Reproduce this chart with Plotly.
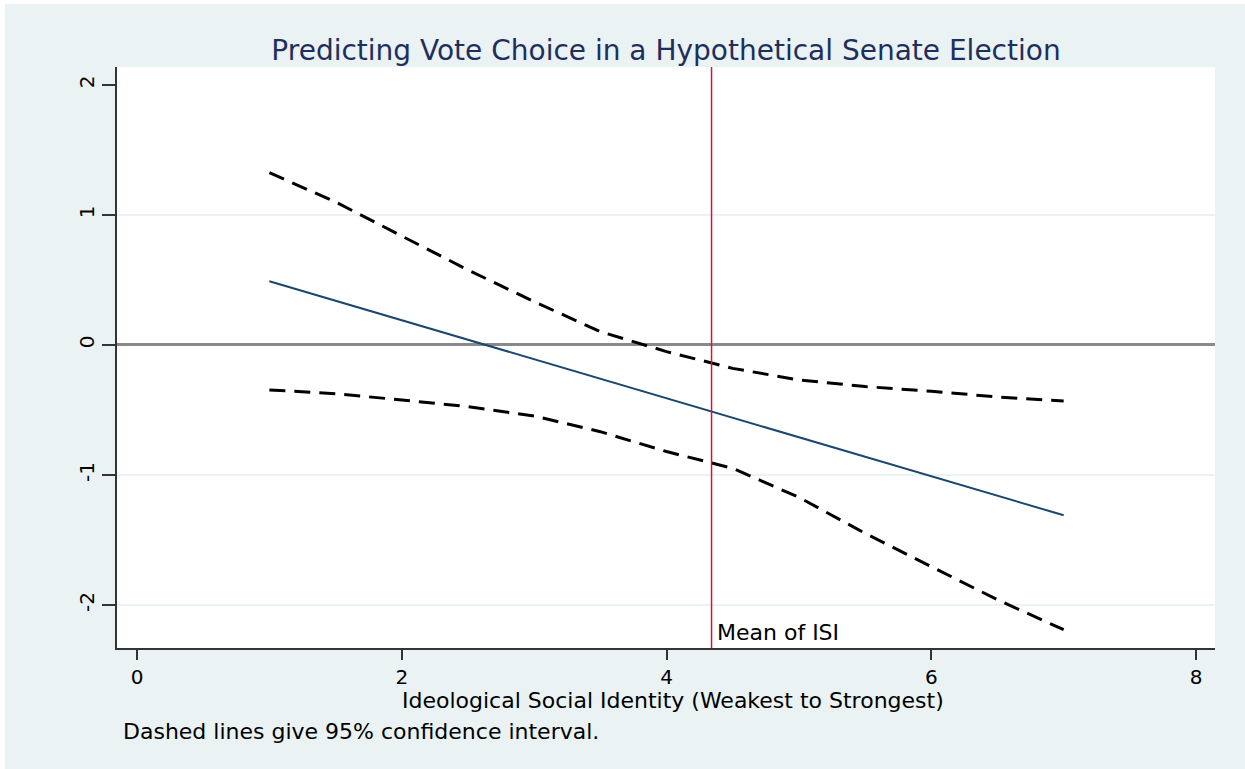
import plotly.graph_objects as go

# ---- data ----
isi = [1, 1.5, 2, 2.5, 3, 3.5, 4, 4.5, 5, 5.5, 6, 6.5, 7]
effect = [0.49, 0.34, 0.19, 0.04, -0.11, -0.26, -0.41, -0.56, -0.71, -0.86, -1.01, -1.16, -1.31]
upper_ci = [1.325, 1.10, 0.838, 0.577, 0.333, 0.102, -0.051, -0.18, -0.269, -0.32, -0.356, -0.40, -0.431]
lower_ci = [-0.346, -0.375, -0.423, -0.474, -0.546, -0.667, -0.82, -0.949, -1.172, -1.449, -1.705, -1.96, -2.19]
mean_isi = 4.34
x_ticks = [0, 2, 4, 6, 8]
y_ticks = [-2, -1, 0, 1, 2]
y_tick_labels = ["-2", "-1", "0", "1", "2"]
y_grid = [-2, -1, 1]

title_text = "Predicting Vote Choice in a Hypothetical Senate Election"
x_title = "Ideological Social Identity (Weakest to Strongest)"
caption = "Dashed lines give 95% confidence interval."
mean_label = "Mean of ISI"

# ---- style ----
W, H = 1245, 769
ML, MR, MT, MB = 117, 30, 67, 121
PW, PH = W - ML - MR, H - MT - MB
BG = "#EAF2F3"
FONT = "DejaVu Sans"


def px_x(p):
    return (p - ML) / PW


def px_y(p):
    return (H - MB - p) / PH


fig = go.Figure()

fig.add_trace(go.Scatter(x=isi, y=upper_ci, mode="lines",
                         line=dict(color="black", width=3, dash="16px,9px"),
                         showlegend=False, hoverinfo="skip"))
fig.add_trace(go.Scatter(x=isi, y=lower_ci, mode="lines",
                         line=dict(color="black", width=3, dash="16px,9px"),
                         showlegend=False, hoverinfo="skip"))
fig.add_trace(go.Scatter(x=isi, y=effect, mode="lines",
                         line=dict(color="#1A476F", width=2),
                         showlegend=False, hoverinfo="skip"))

shapes = []
for g in y_grid:
    shapes.append(dict(type="line", xref="x domain", yref="y", x0=0, x1=1, y0=g, y1=g,
                       line=dict(color=BG, width=2), layer="below"))
shapes += [
    # vertical line at the mean of ISI
    dict(type="line", xref="x", yref="y domain", x0=mean_isi, x1=mean_isi, y0=0, y1=1,
         line=dict(color="#D2153F", width=1.5), layer="above"),
    # white strips at the page edge
    dict(type="rect", xref="paper", yref="paper", x0=px_x(0), x1=px_x(W),
         y0=px_y(4), y1=px_y(0), fillcolor="white", line=dict(width=0), layer="below"),
    dict(type="rect", xref="paper", yref="paper", x0=px_x(0), x1=px_x(5),
         y0=px_y(H), y1=px_y(0), fillcolor="white", line=dict(width=0), layer="below"),
]

annotations = [
    dict(text=x_title, xref="paper", yref="paper", x=px_x(673), y=px_y(700),
         xanchor="center", yanchor="middle", showarrow=False,
         font=dict(family=FONT, size=22, color="black")),
    dict(text=caption, xref="paper", yref="paper", x=px_x(121), y=px_y(731),
         xanchor="left", yanchor="middle", showarrow=False,
         font=dict(family=FONT, size=22, color="black")),
    dict(text=mean_label, xref="x", yref="paper", x=mean_isi, y=px_y(632),
         xanchor="left", yanchor="middle", xshift=3, showarrow=False,
         font=dict(family=FONT, size=22, color="black")),
]

fig.update_layout(
    width=W, height=H,
    margin=dict(l=ML, r=MR, t=MT, b=MB, pad=0),
    paper_bgcolor=BG, plot_bgcolor="white",
    title=dict(text=title_text, x=0.5, xref="paper", xanchor="center",
               y=1 - 50 / H, yref="container", yanchor="middle",
               font=dict(family=FONT, size=28, color="#1F2F5C")),
    font=dict(family=FONT, color="black"),
    shapes=shapes, annotations=annotations,
    xaxis=dict(range=[-0.151, 8.143], tickvals=x_ticks, ticks="outside", ticklen=10,
               tickwidth=1.5, tickcolor="#333333", showgrid=False, zeroline=False,
               showline=True, linecolor="#333333", linewidth=2,
               tickfont=dict(family=FONT, size=20, color="black"), fixedrange=True),
    yaxis=dict(range=[-2.331, 2.138], tickvals=y_ticks, ticktext=y_tick_labels,
               ticks="outside", ticklen=13,
               tickwidth=1.5, tickcolor="#333333", showgrid=False,
               zeroline=True, zerolinecolor="#8A8A8A", zerolinewidth=2.5,
               showline=True, linecolor="#333333", linewidth=2, tickangle=-90,
               tickfont=dict(family=FONT, size=20, color="black"), fixedrange=True),
)

fig.write_html("out.html", config={"displayModeBar": False},
               post_script="document.body.style.margin='0';document.body.style.overflow='hidden';")
